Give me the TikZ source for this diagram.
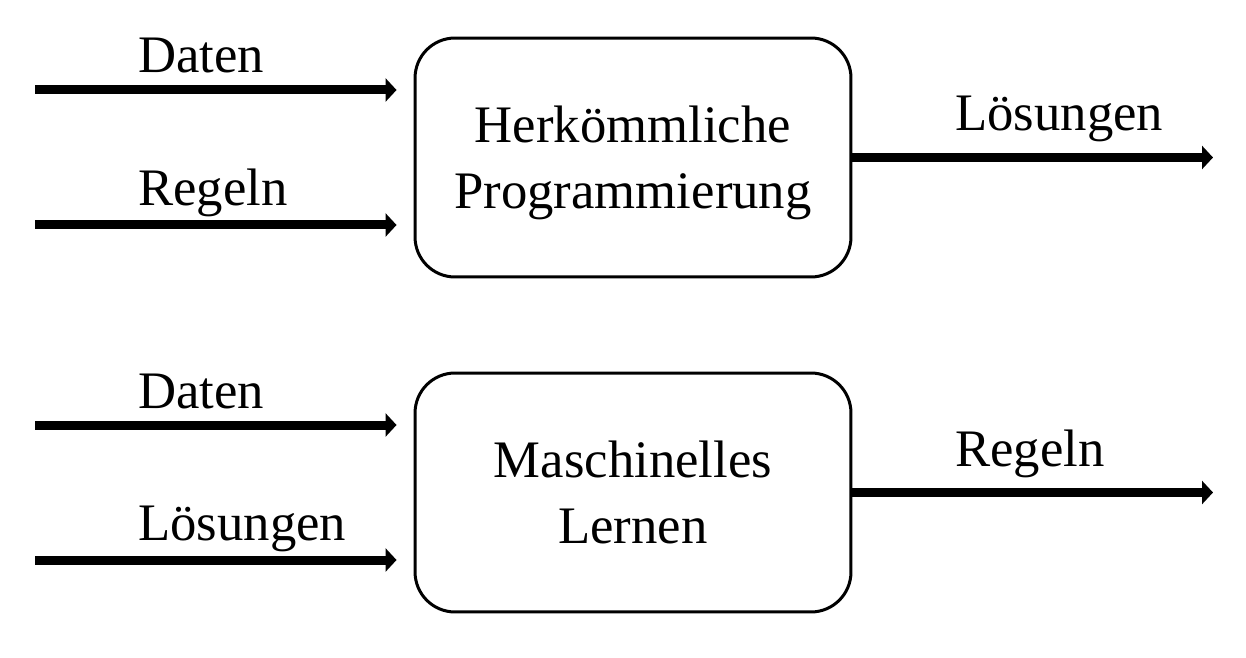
\documentclass[tikz,border=0pt]{standalone}
\usepackage{fontspec}
\setmainfont{Liberation Serif}
\usetikzlibrary{arrows.meta}

\begin{document}
\begin{tikzpicture}[x=0.02cm,y=-0.02cm,
    kasten/.style={draw,line width=0.06cm,rounded corners=0.8cm,
        minimum width=8.72cm,minimum height=4.78cm,inner sep=0pt,
        align=center,font=\fontsize{30}{37.5}\selectfont},
    pfeil/.style={line width=0.18cm,-{Triangle[length=0.22cm,width=0.46cm]}},
    beschriftung/.style={anchor=base west,inner sep=0pt,font=\fontsize{30}{36}\selectfont}]
    \useasboundingbox (0,0) rectangle (1246,658);
    %% NOTE:
    %% oben: herkoemmliche Programmierung
    \node[kasten] (hp) at (633,157.5) {Herkömmliche\\\smash{Programmierung}};
    \coordinate (hpdaten) at (35,90);
    \coordinate (hpregeln) at (35,225);
    \coordinate (hploesungen) at (1213,157.5);
    \draw[pfeil,shorten >=0.34cm] (hpdaten) -- (hpdaten -| hp.west);
    \draw[pfeil,shorten >=0.34cm] (hpregeln) -- (hpregeln -| hp.west);
    \draw[pfeil] (hp.east) -- (hploesungen);
    %% labels
    \node[beschriftung] (hpdatentext) at (138,73) {Daten};
    \node[beschriftung] (hpregelntext) at (138,206) {Regeln};
    \node[beschriftung] (hploesungentext) at (955,131) {Lösungen};
    %% unten: maschinelles Lernen
    \node[kasten] (ml) at (633,492.5) {Maschinelles\\Lernen};
    \coordinate (mldaten) at (35,425);
    \coordinate (mlloesungen) at (35,560);
    \coordinate (mlregeln) at (1213,492.5);
    \draw[pfeil,shorten >=0.34cm] (mldaten) -- (mldaten -| ml.west);
    \draw[pfeil,shorten >=0.34cm] (mlloesungen) -- (mlloesungen -| ml.west);
    \draw[pfeil] (ml.east) -- (mlregeln);
    %% labels
    \node[beschriftung] (mldatentext) at (138,408) {Daten};
    \node[beschriftung] (mlloesungentext) at (138,540) {Lösungen};
    \node[beschriftung] (mlregelntext) at (955,466) {Regeln};
\end{tikzpicture}
\end{document}
